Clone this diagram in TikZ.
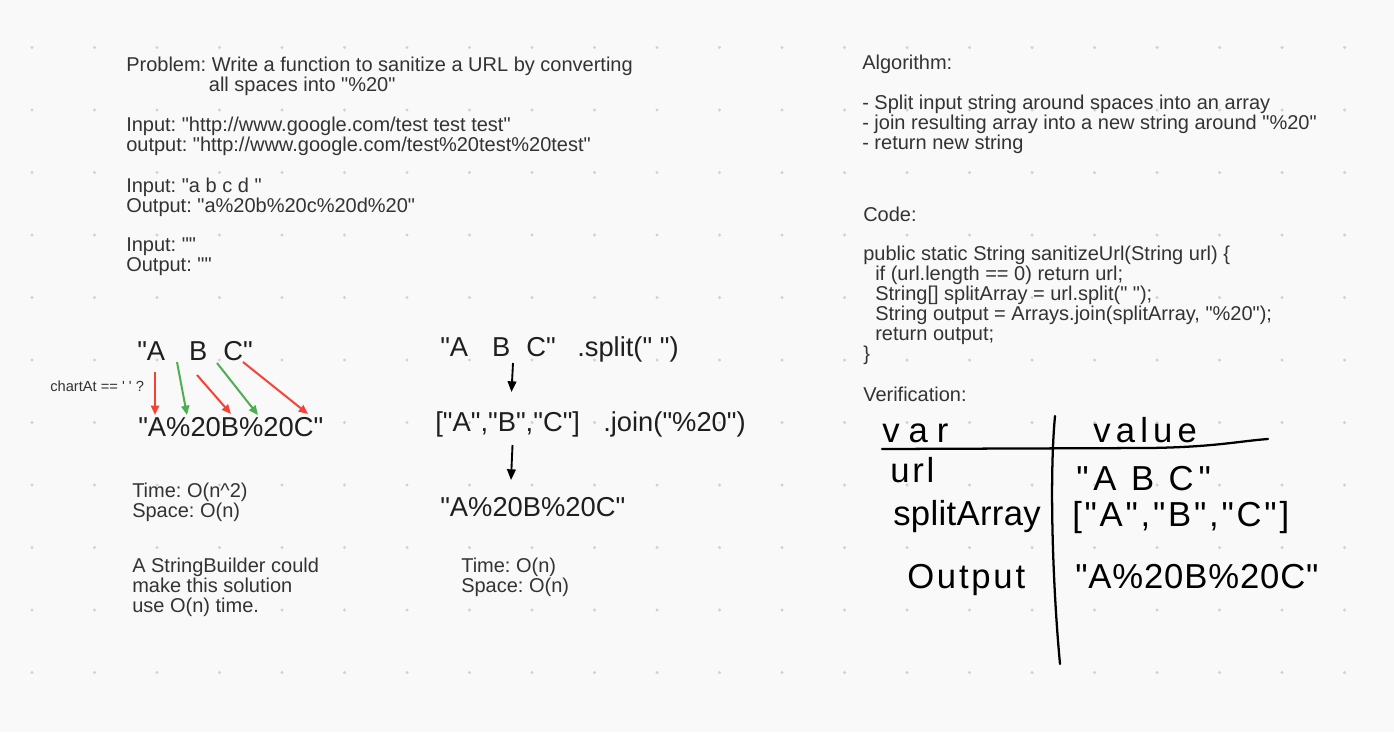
\documentclass[tikz,border=0pt]{standalone}
\usepackage{fontspec}
\setmainfont{Liberation Sans}[Ligatures=TeXOff]
\newfontfamily\handfont{Liberation Sans}[Ligatures=TeXOff]
\usetikzlibrary{arrows.meta,positioning}
\definecolor{Paper}{HTML}{F9F9F9}
\definecolor{GridDot}{HTML}{D2D2D2}
\definecolor{Ink}{HTML}{333333}
\definecolor{Tomato}{HTML}{F44336}
\definecolor{Leaf}{HTML}{4CAF50}
\newcommand{\gapwide}{\hspace{18pt}}
\newcommand{\gapnarrow}{\hspace{12pt}}
\frenchspacing

\begin{document}
\begin{tikzpicture}[x=0.75pt, y=-0.75pt,
    note/.style={anchor=base west, inner sep=0pt, text=Ink, align=left, font=\fontsize{15pt}{15pt}\selectfont},
    big/.style={anchor=base west, inner sep=0pt, text=Ink!60!black, font=\fontsize{20.5pt}{24pt}\selectfont},
    tinynote/.style={anchor=base west, inner sep=0pt, text=Ink, font=\fontsize{11pt}{13pt}\selectfont},
    hand/.style={anchor=base west, inner sep=0pt, text=black, font=\handfont\fontsize{26pt}{28pt}\selectfont\addfontfeature{LetterSpace=#1}},
    hand/.default=8,
    redarrow/.style={-{Triangle[length=7pt, width=6pt]}, line width=1.5pt, Tomato},
    greenarrow/.style={-{Triangle[length=7pt, width=6pt]}, line width=1.5pt, Leaf},
    downarrow/.style={-{Triangle[length=8pt, width=6.5pt]}, line width=1.4pt, black},
    pen/.style={line width=1.7pt, line cap=round, black},
]
    \useasboundingbox (0,0) rectangle (1394,732);
    \fill[Paper] (0,0) rectangle (1394,732);
    \foreach \col in {0,...,21}
        \foreach \row in {0,...,10}
            \fill[GridDot] (32+62.5*\col, 47.5+62.5*\row) circle[radius=1.3pt];

    % problem and examples (base = last line)
    \node[note] (problem) at (126,91.7) {Problem: Write a function to sanitize a URL by converting\\\hspace*{62pt}all spaces into "\%20"};
    \node[note] (ex1) at (126,151.7) {Input: "http://www.google.com/test test test"\\output: "http://www.google.com/test\%20test\%20test"};
    \node[note] (ex2) at (126,212.5) {Input: "a b c d "\\Output: "a\%20b\%20c\%20d\%20"};
    \node[note] (ex3) at (126,271.7) {Input: ""\\Output: ""};

    % algorithm and code
    \node[note] (algo) at (862,69) {Algorithm:};
    \node[note] (steps) at (862,149.3) {- Split input string around spaces into an array\\- join resulting array into a new string around "\%20"\\- return new string};
    \node[note] (codehead) at (863,221.7) {Code:};
    \node[note] (code) at (863,360) {public static String sanitizeUrl(String url) \{\\
        \hspace*{9pt}if (url.length == 0) return url;\\
        \hspace*{9pt}String[] splitArray = url.split(" ");\\
        \hspace*{9pt}String output = Arrays.join(splitArray, "\%20");\\
        \hspace*{9pt}return output;\\
        \}};
    \node[note] (verif) at (863,401) {Verification:};

    % brute force
    \node[big] (src) at (137,360) {"A\gapwide B\gapnarrow C"};
    \node[tinynote] (test) at (50,391.7) {chartAt == ' ' ?};
    \node[big] (res) at (138,436.7) {"A\%20B\%20C"};
    \node[note] (cost1) at (132,517.7) {Time: O(n\textasciicircum 2)\\Space: O(n)};
    \node[note] (hint) at (132,612) {A StringBuilder could\\make this solution\\use O(n) time.};

    \coordinate (r1a) at (155,372); \coordinate (r1b) at (155,415);
    \coordinate (g1a) at (177,362); \coordinate (g1b) at (187,415);
    \coordinate (r2a) at (197,375); \coordinate (r2b) at (231,414);
    \coordinate (g2a) at (217,363); \coordinate (g2b) at (258,415);
    \coordinate (r3a) at (243,362); \coordinate (r3b) at (308,414);
    \draw[redarrow] (r1a) -- (r1b);
    \draw[greenarrow] (g1a) -- (g1b);
    \draw[redarrow] (r2a) -- (r2b);
    \draw[greenarrow] (g2a) -- (g2b);
    \draw[redarrow] (r3a) -- (r3b);

    % split / join
    \node[big] (src2) at (440,356.7) {"A\gapwide B\gapnarrow C"};
    \node[big] (split) at (577,356.7) {.split(" ")};
    \node[big] (arr) at (435,431.7) {["A","B","C"]};
    \node[big] (join) at (603,431.7) {.join("\%20")};
    \node[big] (res2) at (440,516.7) {"A\%20B\%20C"};
    \node[note] (cost2) at (461,592) {Time: O(n)\\Space: O(n)};

    \coordinate (s1a) at (513,363); \coordinate (s1b) at (511.5,392);
    \coordinate (s2a) at (512.5,445); \coordinate (s2b) at (511,480);
    \draw[downarrow] (s1a) -- (s1b);
    \draw[downarrow] (s2a) -- (s2b);

    % verification table
    \node[hand=26] (hvar) at (882,442) {var};
    \node[hand=15] (hval) at (1093,442) {value};
    \node[hand] (hurl) at (890,482) {url};
    \node[hand=14] (hurlv) at (1076,490) {"A B C"};
    \node[hand=1] (hsplit) at (893,525) {splitArray};
    \node[hand] (hsplitv) at (1072,526) {["A","B","C"]};
    \node[hand] (hout) at (907,588) {Output};
    \node[hand=2.5] (houtv) at (1075,588) {"A\%20B\%20C"};

    \draw[pen] (882,449) -- (1150,448) .. controls (1215,447) and (1240,441) .. (1268,439);
    \draw[pen] (1055,416) .. controls (1049,480) and (1053,590) .. (1060,664);
\end{tikzpicture}
\end{document}
